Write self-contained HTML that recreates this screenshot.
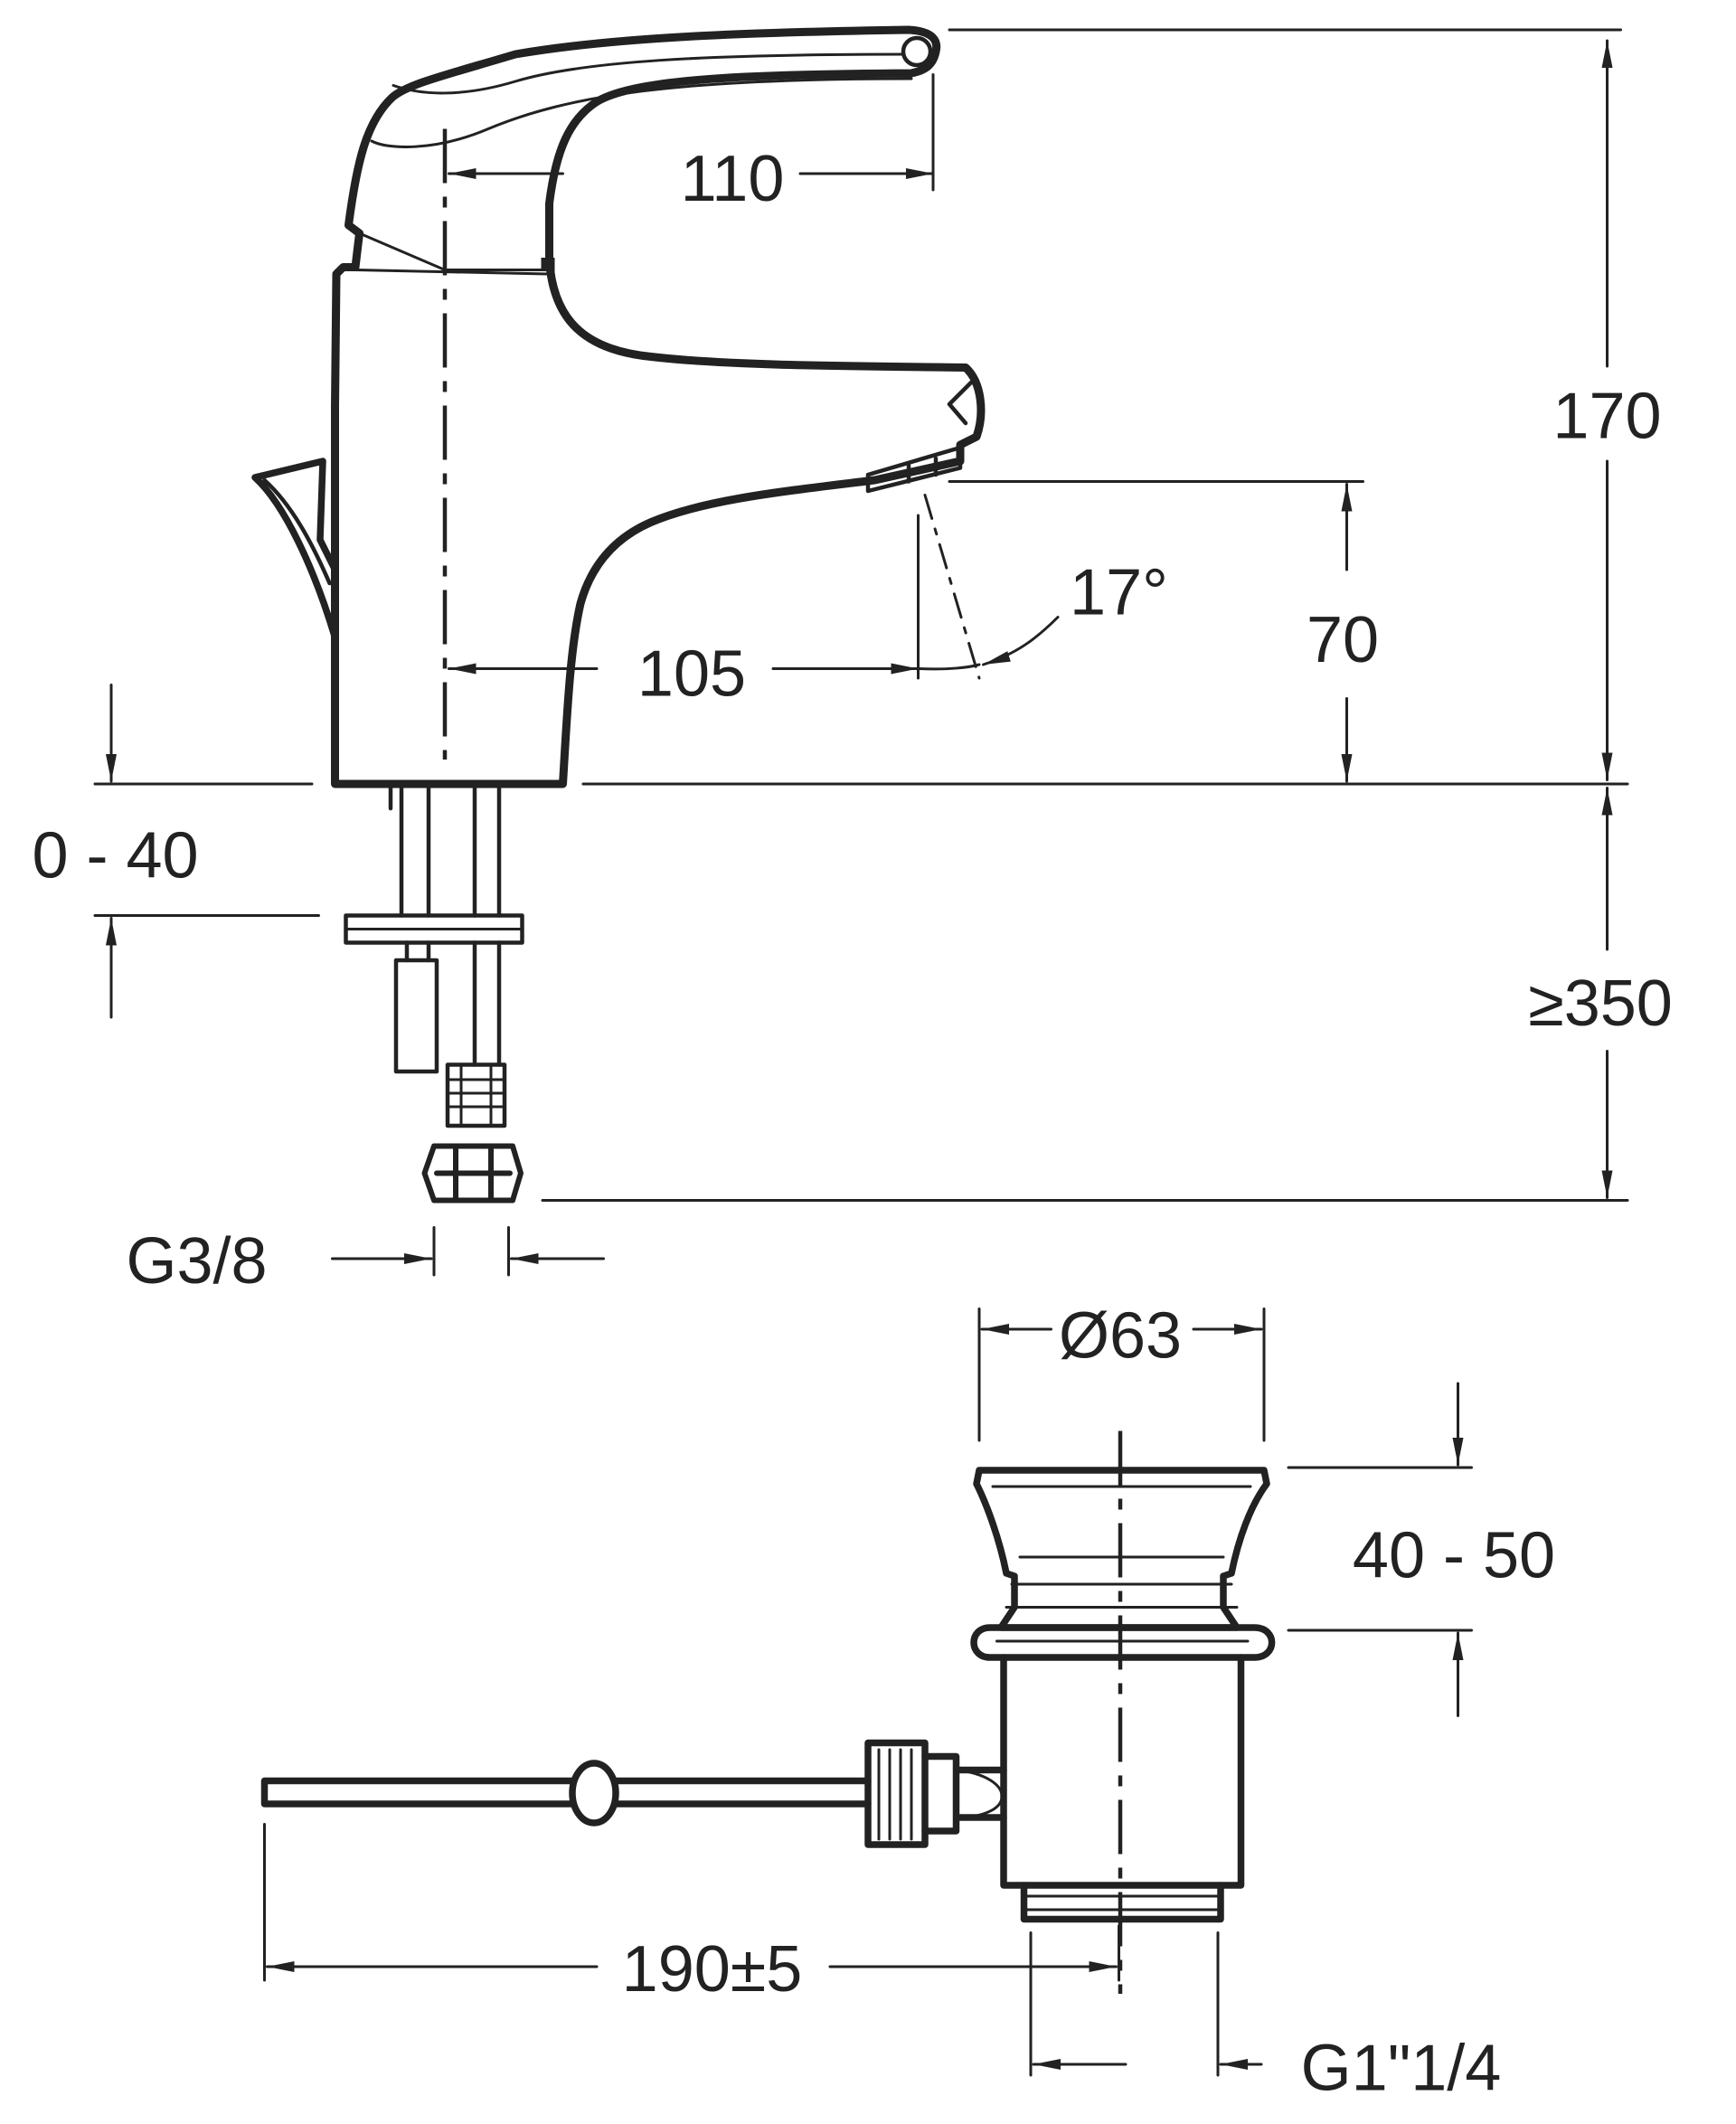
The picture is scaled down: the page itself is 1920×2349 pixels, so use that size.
<!DOCTYPE html>
<html><head><meta charset="utf-8"><style>
html,body{margin:0;padding:0;background:#fff}
svg{display:block}
text{font-family:"Liberation Sans",sans-serif;font-size:48px;fill:#222}
</style></head><body>
<svg width="1920" height="2349" viewBox="0 0 1280 1566" xmlns="http://www.w3.org/2000/svg">
<defs>
<marker id="a" viewBox="0 0 20 8" refX="20" refY="4" markerWidth="20" markerHeight="8" orient="auto-start-reverse" markerUnits="userSpaceOnUse"><path d="M0,0 L20,4 L0,8 z" fill="#222"/></marker>
</defs>
<g fill="none" stroke="#222" stroke-linejoin="round" stroke-linecap="round">
<path stroke-width="6" d="M247,578 L247,300 L248,202 L253,197 L262,197 L265,172 L257,166 C263,120 270,90 289,72 C300,62 330,55 380,40 C450,28 540,24 670,22 C688,23 692,30 690,38 C688,48 682,52 672,54 C560,55 470,57 440,75 C420,88 410,110 405,150 L405,192 C408,235 430,258 480,263 C540,270 640,270 712,271 C724,282 726,305 720,322 L708,328 L708,340 L645,354 C580,362 520,368 480,385 C450,398 435,420 428,445 C420,480 418,530 415,578 Z"/>
<path stroke-width="2" d="M274,104 C285,110 320,112 360,95 C420,70 500,58 672,58"/>
<path stroke-width="2" d="M290,63 C310,70 340,72 380,60 C430,45 520,40 672,40"/>
<circle cx="676" cy="38" r="10" stroke-width="3" fill="#fff"/>
<path stroke-width="2" d="M265,172 L328,199 L404,199 M262,199 L404,202"/>
<rect x="399" y="190" width="10" height="10" fill="#222" stroke="none"/>
<path stroke-width="3" d="M640,350 L640,362 L708,345 L708,330 Z M670,343 L670,355 M690,338 L690,350"/>
<path stroke-width="3" d="M716,282 L700,298 L712,312"/>
<path stroke-width="5" d="M238,340 L188,352 C210,372 232,420 247,470 M238,340 L236,398 L247,420"/>
<path stroke-width="3" d="M195,354 C215,372 230,400 243,430"/>
<path stroke-width="3" d="M288,580 L288,596 M296,580 L296,675 M316,580 L316,675 M350,580 L350,675 M368,580 L368,675"/>
<rect x="255" y="675" width="130" height="20" stroke-width="3"/>
<path stroke-width="2" d="M255,685 L385,685"/>
<rect x="292" y="708" width="30" height="82" stroke-width="3"/>
<path stroke-width="3" d="M300,695 L300,708 M316,695 L316,708 M350,695 L350,785 M368,695 L368,785"/>
<rect x="330" y="785" width="42" height="45" stroke-width="3"/>
<path stroke-width="2" d="M330,796 L372,796 M330,806 L372,806 M330,816 L372,816 M340,785 L340,830 M362,785 L362,830"/>
<path stroke-width="4" d="M320,845 L378,845 L384,865 L378,885 L320,885 L313,865 Z M322,865 L376,865 M336,845 L336,885 M362,845 L362,885"/>
<path stroke-width="3" stroke-dasharray="40,10,8,10" stroke-linecap="butt" d="M328,95 L328,560"/>
<g stroke-width="2">
<path d="M700,22 L1195,22 M688,55 L688,140 M430,578 L1200,578 M70,578 L230,578 M700,355 L1005,355 M400,885 L1200,885 M70,675 L235,675"/>
<path d="M415,128 L331,128" marker-end="url(#a)"/>
<path d="M590,128 L688,128" marker-end="url(#a)"/>
<path d="M440,493 L331,493" marker-end="url(#a)"/>
<path d="M570,493 L677,493" marker-end="url(#a)"/>
<path d="M677,380 L677,500"/>
<path stroke-dasharray="18,8,4,8" d="M682,365 L722,500"/>
<path d="M677,493 C700,494 715,492 722,490" />
<path d="M780,455 C765,470 750,482 725,490" marker-end="url(#a)"/>
<path d="M1185,30 L1185,270" marker-start="url(#a)"/>
<path d="M1185,340 L1185,575" marker-end="url(#a)"/>
<path d="M993,420 L993,357" marker-end="url(#a)"/>
<path d="M993,515 L993,576" marker-end="url(#a)"/>
<path d="M1185,700 L1185,581" marker-end="url(#a)"/>
<path d="M1185,775 L1185,883" marker-end="url(#a)"/>
<path d="M82,505 L82,576" marker-end="url(#a)"/>
<path d="M82,750 L82,677" marker-end="url(#a)"/>
<path d="M320,905 L320,940 M375,905 L375,940"/>
<path d="M245,928 L318,928" marker-end="url(#a)"/>
<path d="M445,928 L377,928" marker-end="url(#a)"/>
<path d="M722,965 L722,1062 M932,965 L932,1062"/>
<path d="M775,980 L724,980" marker-end="url(#a)"/>
<path d="M880,980 L930,980" marker-end="url(#a)"/>
<path d="M950,1082 L1085,1082 M950,1202 L1085,1202"/>
<path d="M1075,1020 L1075,1080" marker-end="url(#a)"/>
<path d="M1075,1265 L1075,1204" marker-end="url(#a)"/>
<path d="M195,1345 L195,1460 M825,1420 L825,1460"/>
<path d="M440,1450 L197,1450" marker-end="url(#a)"/>
<path d="M612,1450 L823,1450" marker-end="url(#a)"/>
<path d="M760,1425 L760,1530 M898,1425 L898,1530"/>
<path d="M830,1522 L762,1522" marker-end="url(#a)"/>
<path d="M930,1522 L900,1522" marker-end="url(#a)"/>
</g>
<g stroke-width="5">
<path d="M722,1084 L932,1084 L934,1094 C922,1110 913,1135 908,1160 L902,1162 L902,1185 L912,1200 L738,1200 L748,1185 L748,1162 L742,1160 C737,1135 728,1110 720,1094 Z"/>
<path d="M730,1200 C714,1200 714,1222 730,1222 L925,1222 C942,1222 942,1200 925,1200 Z"/>
<path d="M740,1222 L740,1390 L915,1390 L915,1222"/>
<path d="M755,1390 L755,1415 L900,1415 L900,1390"/>
<path d="M195,1313 L640,1313 M195,1330 L640,1330 M195,1313 L195,1330"/>
<ellipse cx="438" cy="1322" rx="16" ry="22" fill="#fff"/>
<rect x="640" y="1285" width="42" height="75"/>
<path d="M682,1295 L705,1295 L705,1350 L682,1350 M705,1305 L740,1305 M705,1340 L740,1340"/>
</g>
<g stroke-width="2">
<path d="M732,1096 L922,1096 M752,1148 L902,1148 M746,1168 L908,1168 M742,1185 L912,1185 M735,1210 L920,1210 M757,1398 L898,1398 M757,1408 L898,1408 M705,1305 C750,1310 750,1340 705,1340"/>
<path d="M648,1290 L648,1356 M656,1290 L656,1356 M664,1290 L664,1356 M672,1290 L672,1356"/>
</g>
<path stroke-width="3" stroke-dasharray="40,10,8,10" stroke-linecap="butt" d="M826,1055 L826,1470"/>
</g>
<text x="540" y="148" text-anchor="middle">110</text>
<text x="1185" y="323" text-anchor="middle">170</text>
<text x="990" y="488" text-anchor="middle">70</text>
<text x="510" y="513" text-anchor="middle">105</text>
<text x="825" y="453" text-anchor="middle">17°</text>
<text x="85" y="647" text-anchor="middle">0 - 40</text>
<text x="1180" y="756" text-anchor="middle">≥350</text>
<text x="145" y="946" text-anchor="middle">G3/8</text>
<text x="826" y="1001" text-anchor="middle">Ø63</text>
<text x="1072" y="1163" text-anchor="middle">40 - 50</text>
<text x="525" y="1468" text-anchor="middle">190±5</text>
<text x="1033" y="1541" text-anchor="middle">G1"1/4</text>
</svg>
</body></html>
